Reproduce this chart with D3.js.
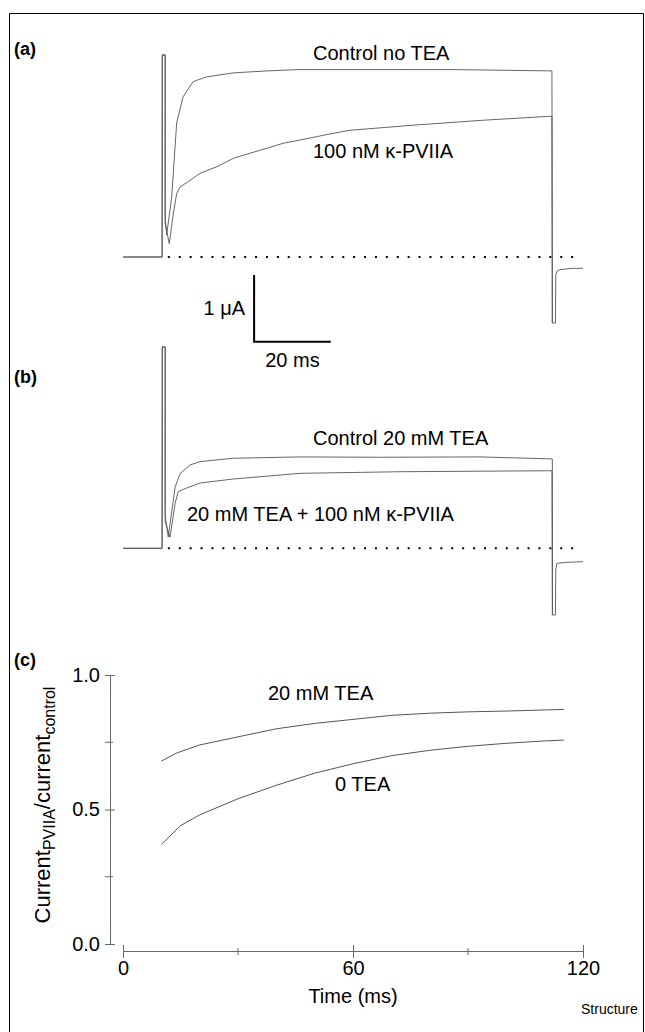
<!DOCTYPE html>
<html>
<head>
<meta charset="utf-8">
<script src="https://cdn.jsdelivr.net/npm/d3@7"></script>
<style>
  body { margin: 0; background: #fff; }
  svg { display: block; font-family: "Liberation Sans", Arial, sans-serif; }
</style>
</head>
<body>
<div id="chart"></div>
<script>
// data (time in ms, current in µA, ratio unitless)
const controlNoTEA = [
  [0, 0], [10.2, 0], [10.25, 3.03], [11.0, 3.03], [11.0, 0.6], [11.4, 0.33],
  [12.7, 0.9], [14.0, 2.01], [15.65, 2.4], [18.3, 2.63], [21.8, 2.7],
  [28.7, 2.76], [37.5, 2.79], [46.2, 2.81], [59.2, 2.81], [85.3, 2.81],
  [111.9, 2.79], [112.0, -0.99], [112.8, -0.99], [112.9, -0.27],
  [113.3, -0.21], [114.0, -0.19], [117, -0.17], [120, -0.17]
];
const kappaNoTEA = [
  [0, 0], [10.2, 0], [10.25, 3.03], [11.0, 3.03], [11.0, 0.5], [12.08, 0.2],
  [13.0, 0.6], [14.0, 0.95], [14.9, 1.05], [17.0, 1.13], [20.1, 1.255],
  [24.5, 1.354], [28.8, 1.48], [33.1, 1.555], [37.5, 1.63], [41.8, 1.705],
  [46.2, 1.754], [50.5, 1.804], [54.9, 1.855], [59.2, 1.9], [76.6, 1.98],
  [93.9, 2.05], [111.4, 2.11], [111.9, 2.11], [112.0, -0.99]
];
const control20TEA = [
  [0, 0], [10.2, 0], [10.25, 3.02], [11.0, 3.02], [11.0, 0.5], [11.8, 0.17],
  [13.6, 0.92], [14.9, 1.12], [17.5, 1.25], [20.1, 1.3], [28.8, 1.35],
  [46.2, 1.37], [67.0, 1.365], [93.1, 1.37], [112.0, 1.34], [112.05, -1.0],
  [112.8, -1.0], [112.9, -0.32], [113.2, -0.225], [116, -0.21], [120, -0.2]
];
const kappa20TEA = [
  [0, 0], [10.2, 0], [10.25, 3.02], [11.0, 3.02], [11.0, 0.4], [12.26, 0.165],
  [13.6, 0.675], [14.4, 0.85], [16.6, 0.904], [20.1, 0.979], [28.8, 1.039],
  [46.2, 1.124], [72.3, 1.148], [111.9, 1.163], [112.0, -1.0]
];
const ratio20TEA = [
  [10, 0.68], [14, 0.71], [20, 0.74], [30, 0.77], [40, 0.8], [50, 0.82],
  [60, 0.835], [70, 0.85], [80, 0.858], [90, 0.863], [100, 0.866],
  [110, 0.87], [115, 0.872]
];
const ratio0TEA = [
  [10, 0.37], [15, 0.44], [20, 0.48], [30, 0.54], [40, 0.59], [50, 0.635],
  [60, 0.67], [70, 0.7], [80, 0.72], [90, 0.735], [100, 0.746],
  [110, 0.755], [115, 0.758]
];
const zeroLine = [[11.7, 0], [118.4, 0]];
const scaleBar = { t0: 34.2, i0: -1.27, dt: 20, di: 1 };
const xTicksMajor = [0, 60, 120];
const xTicksMinor = [30, 90];
const yTicksMajor = [0, 0.5, 1.0];
const yTicksMinor = [0.25, 0.75];

function drawChart() {
  const W = 645, H = 1032;
  const svg = d3.select("#chart").append("svg")
    .attr("width", W).attr("height", H);

  // frame
  svg.append("path")
    .attr("d", `M9.5,${H} V13.5 H643.5 V${H}`)
    .attr("fill", "none").attr("stroke", "#000").attr("stroke-width", 1);

  // échelles
  const x = d3.scaleLinear().domain([0, 120]).range([123, 583]);
  const yA = d3.scaleLinear().domain([0, 1]).range([257, 190.3]);
  const yB = d3.scaleLinear().domain([0, 1]).range([548.3, 481.6]);
  const yC = d3.scaleLinear().domain([0, 1]).range([944, 675]);

  const traceColor = "#555";

  function trace(data, y, width) {
    const line = d3.line().x((d) => x(d[0])).y((d) => y(d[1]));
    svg.append("path").datum(data)
      .attr("fill", "none")
      .attr("stroke", traceColor)
      .attr("stroke-width", width || 0.9)
      .attr("stroke-linejoin", "round")
      .attr("d", line);
  }
  function dotted(y) {
    svg.append("line")
      .attr("x1", x(zeroLine[0][0])).attr("x2", x(zeroLine[1][0]))
      .attr("y1", y(0)).attr("y2", y(0))
      .attr("stroke", "#000").attr("stroke-width", 2)
      .attr("stroke-dasharray", "2,8.9");
  }
  function label(txt, px, py, opts) {
    opts = opts || {};
    return svg.append("text")
      .attr("x", px).attr("y", py)
      .attr("text-anchor", opts.anchor || "start")
      .style("font-size", (opts.size || 20) + "px")
      .style("font-weight", opts.bold ? "bold" : "normal")
      .attr("fill", "#000")
      .text(txt);
  }

  // panel (a)
  dotted(yA);
  trace(controlNoTEA, yA);
  trace(kappaNoTEA, yA);
  label("Control no TEA", 313, 60);
  label("100 nM κ-PVIIA", 313, 158);
  label("(a)", 14, 55, { bold: true, size: 18 });

  // scale bar
  svg.append("path")
    .attr("d", `M${x(scaleBar.t0)},${yA(scaleBar.i0 + scaleBar.di)} V${yA(scaleBar.i0)} H${x(scaleBar.t0 + scaleBar.dt)}`)
    .attr("fill", "none").attr("stroke", "#000").attr("stroke-width", 2);
  label("1 μA", 245, 315, { anchor: "end" });
  label("20 ms", x(scaleBar.t0 + scaleBar.dt / 2), 367, { anchor: "middle" });

  // panel (b)
  dotted(yB);
  trace(control20TEA, yB);
  trace(kappa20TEA, yB);
  label("Control 20 mM TEA", 313, 445);
  label("20 mM TEA + 100 nM κ-PVIIA", 187, 521);
  label("(b)", 14, 383, { bold: true, size: 18 });

  // panel (c)
  label("(c)", 14, 666, { bold: true, size: 18 });
  const axisColor = "#666";

  const gy = svg.append("g").attr("transform", "translate(110,0)");
  gy.call(d3.axisLeft(yC).tickValues(yTicksMajor).tickSizeOuter(0)
    .tickFormat(d3.format(".1f")).tickPadding(10));
  gy.selectAll(".tick line").attr("x1", -5).attr("x2", 5);
  gy.selectAll(".tick text").style("font-size", "20px")
    .attr("x", -10).attr("fill", "#000")
    .style("font-family", "'Liberation Sans', Arial, sans-serif");
  gy.selectAll("line, path").attr("stroke", axisColor);
  gy.selectAll(".minor").data(yTicksMinor).enter().append("line")
    .attr("x1", -5).attr("x2", 3).attr("y1", (d) => yC(d)).attr("y2", (d) => yC(d))
    .attr("stroke", axisColor);

  const gx = svg.append("g").attr("transform", "translate(0,951)");
  gx.call(d3.axisBottom(x).tickValues(xTicksMajor).tickSizeOuter(0).tickPadding(6));
  gx.selectAll(".tick line").attr("y1", -6).attr("y2", 7);
  gx.selectAll(".tick text").style("font-size", "20px").attr("y", 10).attr("fill", "#000")
    .style("font-family", "'Liberation Sans', Arial, sans-serif");
  gx.selectAll("line, path").attr("stroke", axisColor);
  gx.selectAll(".minor").data(xTicksMinor).enter().append("line")
    .attr("x1", (d) => x(d)).attr("x2", (d) => x(d)).attr("y1", -3).attr("y2", 4)
    .attr("stroke", axisColor);

  trace(ratio20TEA, yC, 1);
  trace(ratio0TEA, yC, 1);
  label("20 mM TEA", 268, 700);
  label("0 TEA", 335, 791);

  label("Time (ms)", x(60), 1003, { anchor: "middle" });

  const yl = svg.append("text")
    .attr("transform", "translate(50,805) rotate(-90)")
    .attr("text-anchor", "middle")
    .style("font-size", "22px").attr("fill", "#000");
  yl.append("tspan").text("Current");
  yl.append("tspan").attr("dy", 5).style("font-size", "16px").text("PVIIA");
  yl.append("tspan").attr("dy", -5).text("/current");
  yl.append("tspan").attr("dy", 5).style("font-size", "16px").text("control");

  label("Structure", 581, 1014, { size: 14 });
}

drawChart();
</script>
</body>
</html>
